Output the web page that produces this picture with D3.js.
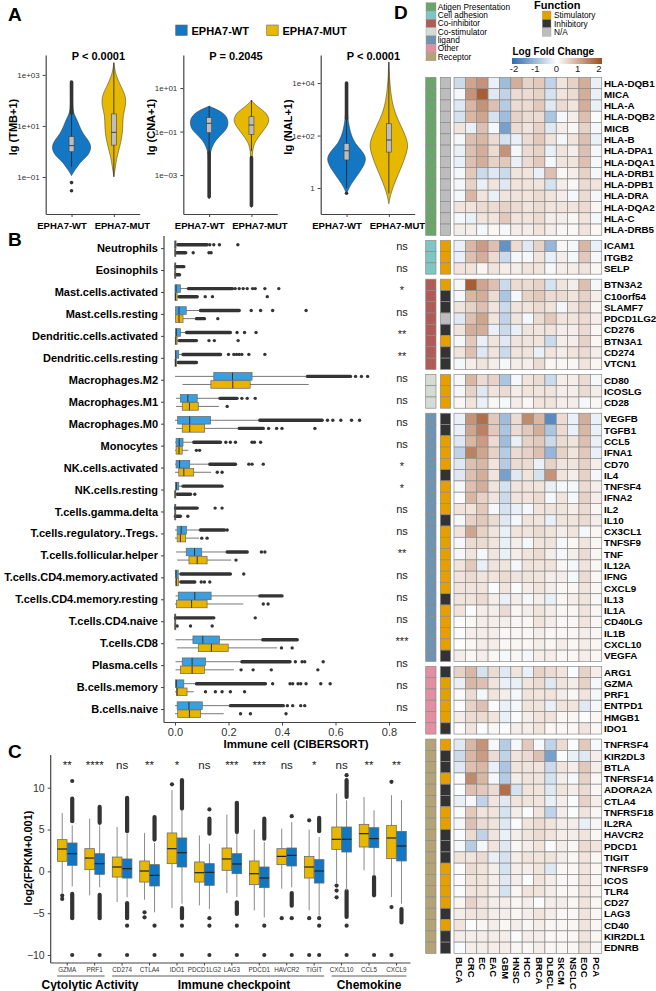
<!DOCTYPE html>
<html><head><meta charset="utf-8">
<script src="https://cdn.jsdelivr.net/npm/d3@7"></script>
<style>body{margin:0;background:#fff}svg{display:block}</style>
</head><body>
<svg id="c" width="656" height="991"></svg>
<script>
// ================= DATA =================
// ---- Panel A ----
const groupsA = ["EPHA7-WT","EPHA7-MUT"];
const titlesA = ["P < 0.0001","P = 0.2045","P < 0.0001"];
const yLabelsA = ["lg (TMB+1)","lg (CNA+1)","lg (NAL+1)"];
const tickValsA = [[-1,1,3],[-3,-1,1],[0,2,4]];
const tickLabsA = [["1e−01","1e+01","1e+03"],["1e−03","1e−01","1e+01"],["1","1e+02","1e+04"]];
// violin profiles: [log10 value, relative density]
const tmbWT = [[-0.95,0],[-0.8,0.1],[-0.6,0.3],[-0.45,0.42],[-0.3,0.62],[-0.15,0.85],[0.05,0.97],[0.23,1.0],[0.45,0.85],[0.7,0.58],[1.0,0.4],[1.25,0.28],[1.45,0.13],[1.7,0.06],[2.2,0.04],[2.74,0.02]];
const tmbMUT = [[-0.99,0],[-0.6,0.08],[-0.2,0.16],[0.2,0.31],[0.6,0.42],[1.0,0.47],[1.4,0.46],[1.75,0.6],[2.15,0.63],[2.55,0.36],[2.95,0.13],[3.2,0.05],[3.48,0]];
const cnaWT = [[-4.1,0],[-3,0.02],[-2.2,0.04],[-1.9,0.07],[-1.55,0.22],[-1.25,0.48],[-0.95,0.87],[-0.62,1.0],[-0.32,0.91],[-0.1,0.65],[0.05,0.3],[0.17,0]];
const cnaMUT = [[-4.5,0],[-3,0.02],[-2.2,0.04],[-1.85,0.06],[-1.47,0.17],[-1.08,0.5],[-0.78,0.77],[-0.5,0.92],[-0.3,0.85],[-0.09,0.7],[0.17,0.28],[0.35,0.08],[0.45,0]];
const nalWT = [[-0.22,0],[0.05,0.15],[0.3,0.38],[0.69,0.75],[0.95,0.95],[1.19,1.0],[1.45,0.75],[1.7,0.44],[1.95,0.28],[2.21,0.17],[2.65,0.06],[3.2,0.03],[4.0,0]];
const nalMUT = [[-0.6,0],[-0.2,0.1],[0.3,0.35],[0.8,0.65],[1.3,0.9],[1.65,1.0],[2.0,0.85],[2.4,0.6],[2.8,0.35],[3.3,0.15],[4.0,0.05],[4.5,0.02],[4.8,0]];
// box stats [lo, q1, median, q3, hi] (log10)
const tmbWTBox = [-0.6,-0.01,0.23,0.58,1.45];
const tmbMUTBox = [-0.99,0.25,0.75,1.47,3.48];
const cnaWTBox = [-1.95,-1.05,-0.62,-0.36,0.17];
const cnaMUTBox = [-1.9,-1.13,-0.7,-0.32,0.45];
const nalWTBox = [0.0,1.07,1.42,1.7,2.6];
const nalMUTBox = [-0.2,1.37,1.83,2.45,4.8];
// outliers: dense runs and single points (log10)
const tmbWTDense = [[1.5,2.72]], tmbWTOut = [-1.22,-1.54];
const tmbMUTDense = [], tmbMUTOut = [];
const cnaWTDense = [[-4.0,-1.95]], cnaWTOut = [];
const cnaMUTDense = [[-4.4,-2.2]], cnaMUTOut = [];
const nalWTDense = [[2.65,4.0]], nalWTOut = [-0.2];
const nalMUTDense = [], nalMUTOut = [];

// ---- Panel B ----
const cellTypes = ["Neutrophils","Eosinophils","Mast.cells.activated","Mast.cells.resting","Dendritic.cells.activated","Dendritic.cells.resting","Macrophages.M2","Macrophages.M1","Macrophages.M0","Monocytes","NK.cells.activated","NK.cells.resting","T.cells.gamma.delta","T.cells.regulatory..Tregs.","T.cells.follicular.helper","T.cells.CD4.memory.activated","T.cells.CD4.memory.resting","T.cells.CD4.naive","T.cells.CD8","Plasma.cells","B.cells.memory","B.cells.naive"];
const sigB = ["ns","ns","*","ns","**","**","ns","ns","ns","ns","*","*","ns","ns","**","ns","ns","ns","***","ns","ns","ns"];
const wtBoxB = [[0,0,0,0.004,0.008],[0,0,0,0,0.002],[0,0,0.004,0.02,0.045],[0,0.002,0.015,0.042,0.093],[0,0.002,0.005,0.02,0.04],[0,0.001,0.003,0.014,0.028],[0,0.145,0.215,0.288,0.494],[0.004,0.02,0.048,0.083,0.164],[0,0.01,0.055,0.133,0.313],[0,0.004,0.016,0.03,0.068],[0,0.004,0.017,0.055,0.127],[0,0.002,0.005,0.014,0.03],[0,0,0,0,0],[0,0.008,0.023,0.043,0.093],[0.004,0.042,0.073,0.1,0.19],[0,0.002,0.004,0.012,0.02],[0.002,0.012,0.074,0.135,0.313],[0,0,0,0,0],[0.002,0.067,0.104,0.166,0.326],[0.002,0.027,0.064,0.114,0.247],[0,0.002,0.005,0.033,0.077],[0,0.008,0.052,0.102,0.207]];
const mutBoxB = [[0,0,0,0.002,0.004],[0,0,0,0,0.002],[0,0,0.002,0.008,0.012],[0,0.002,0.015,0.03,0.077],[0,0.001,0.003,0.008,0.015],[0,0,0.002,0.006,0.01],[0.028,0.134,0.216,0.281,0.5],[0.004,0.027,0.054,0.087,0.164],[0.004,0.027,0.055,0.111,0.235],[0,0.004,0.015,0.027,0.05],[0,0.014,0.033,0.07,0.135],[0,0,0,0.002,0.005],[0,0,0,0,0],[0,0.008,0.02,0.04,0.09],[0.008,0.052,0.083,0.12,0.21],[0,0.003,0.005,0.013,0.02],[0,0.006,0.062,0.12,0.255],[0,0,0,0,0],[0.008,0.087,0.136,0.199,0.382],[0.002,0.02,0.064,0.11,0.22],[0,0.006,0.008,0.045,0.07],[0,0.01,0.054,0.096,0.182]];
const wtDenseB = [[0.01,0.12],[0.004,0.033],[0.05,0.215],[0.095,0.24],[0.043,0.207],[0.03,0.17],[0.495,0.656],[0.168,0.232],[0.317,0.55],[0.07,0.17],[0.13,0.226],[0.03,0.176],[0.002,0.083],[0.095,0.185],[0.195,0.27],[0.022,0.207],[0.317,0.4],[0.002,0.145],[0.328,0.457],[0.25,0.43],[0.08,0.338],[0.207,0.405]];
const mutDenseB = [[0.006,0.04],[0.004,0.017],[0.015,0.083],[0.08,0.11],[0.015,0.08],[0.012,0.08],null,null,[0.24,0.33],null,null,[0.008,0.058],[0.002,0.02],null,null,[0.022,0.074],null,null,null,null,null,null];
const wtOutB = [[0.13,0.145,0.166,0.235],[],[0.225,0.24,0.255,0.27,0.29,0.3,0.336,0.388],[0.285,0.32,0.365,0.49],[0.232,0.26,0.303],[0.2,0.22,0.23,0.24,0.25,0.276,0.336],[0.675,0.697,0.72],[0.25,0.27,0.3],[0.57,0.59,0.62,0.66,0.69],[0.19,0.207,0.226,0.288,0.297,0.32],[0.276,0.288,0.33],[],[0.15,0.176],[0.195],[0.323,0.336],[0.257],[],[0.3],[],[0.45,0.475,0.485,0.554],[0.365,0.43,0.44,0.46,0.47,0.49,0.545,0.58],[0.42,0.44,0.47,0.485]];
const mutOutB = [[0.068,0.127,0.135],[],[0.113,0.14,0.345],[0.16],[0.127,0.147,0.236],[],[],[0.195],[0.35,0.38,0.4,0.523],[0.08,0.092],[0.158,0.176],[0.074],[0.048],[0.1,0.12],[0.228],[0.098,0.11,0.13],[0.33,0.348],[0.008,0.058,0.139],[0.398,0.438],[0.247,0.292,0.36,0.534],[0.114,0.151,0.176,0.207,0.26],[0.245,0.282,0.415]];
const ticksB = [0,0.2,0.4,0.6,0.8];

// ---- Panel C ----
const genesC = ["GZMA","PRF1","CD274","CTLA4","IDO1","PDCD1LG2","LAG3","PDCD1","HAVCR2","TIGIT","CXCL10","CCL5","CXCL9"];
const sigC = ["**","****","ns","**","*","ns","***","***","ns","*","ns","**","**"];
const groupNamesC = ["Cytolytic Activity","Immune checkpoint","Chemokine"];
const groupSpanC = [["GZMA","PRF1"],["CD274","TIGIT"],["CXCL10","CXCL9"]];
const mutBoxC = [[-2.67,1.2,2.67,3.79,6.98],[-2.87,0.2,1.59,2.71,6.3],[-3.67,-0.68,0.52,1.71,5.3],[-3.39,-1.28,0.04,1.24,4.6],[-4.39,0.92,2.71,4.59,9.7],[-4.07,-1.28,-0.16,1.12,4.3],[-2.6,0.12,1.48,2.79,6.78],[-4.67,-1.59,-0.28,1.24,5.0],[-2.07,0.8,1.79,2.71,5.1],[-4.67,-0.8,0.52,1.79,5.0],[-1.48,2.63,3.83,5.3,9.3],[0.12,2.91,4.51,5.62,8.9],[-3.07,1.52,3.99,5.5,9.1]];
const wtBoxC = [[-1.8,0.72,2.11,3.39,5.5],[-1.9,-0.36,0.92,2.11,5.5],[-3.1,-0.8,0.32,1.48,4.5],[-4.9,-1.75,-0.48,0.8,3.4],[-3.87,0.52,2.23,3.99,7.3],[-4.5,-1.67,-0.12,0.92,3.3],[-3.07,-0.28,0.88,2.11,4.5],[-5.5,-1.95,-0.8,0.52,3.5],[-1.9,0.64,1.91,2.79,5.9],[-5.3,-1.4,0.04,1.4,4.1],[-2.27,2.31,3.83,5.3,8.5],[-0.5,2.83,3.91,5.22,7.3],[-3.87,1.24,3.03,4.78,8.5]];
const mutOutC = [[-2.9,-3.3],[],[],[-4.9,-5.5],[10.4],[],[],[],[-5.6],[6.1,-5.6,-10],[-1.7,-2.3,-3.1],[],[-4.27,-10,10.7]];
const wtDenseC = [[[6.0,8.7],[-2.7,-5.6]],[[5.8,7.7],[-2.8,-5.6]],[[4.8,8.8],[-3.8,-5.6]],[[3.8,6.5]],[[7.5,10.9],[-4.4,-5.6]],[[4.5,6.3]],[[4.7,8.2],[-3.7,-5.1]],[[3.9,6.3]],[[-2.6,-4.1]],[[4.8,6.4]],[[8.9,10.9],[-2.35,-5.46]],[[-0.68,-2.87]],[[-4.5,-6.1]]];
const wtOutC = [[10.8,-10],[-10],[-6.5,-10],[-6.5,-10],[-6.5,-10],[7.4,-5.6,-6.5,-10],[-6.5,-10],[-6.5,-10],[6.6,-5.6,-10],[-5.6,-6.5,-10],[11.5,-6.5,-10],[-10],[]];
const ticksC = [-10,-5,0,5,10];

// ---- Panel D ----
const cancers = ["BLCA","CRC","EC","EAC","GBM","HNSC","HCC","BRCA","DLBCL","SKCM","NSCLC","EOC","PCA"];
const categoriesD = ["Atigen Presentation","Cell adhesion","Co-inhibitor","Co-stimulator","ligand","Other","Receptor"];
const categoryCounts = [14,3,8,3,22,6,19];
const functionsD = ["Stimulatory","Inhibitory","N/A"];
const genesD = ["HLA-DQB1","MICA","HLA-A","HLA-DQB2","MICB","HLA-B","HLA-DPA1","HLA-DQA1","HLA-DRB1","HLA-DPB1","HLA-DRA","HLA-DQA2","HLA-C","HLA-DRB5",
 "ICAM1","ITGB2","SELP",
 "BTN3A2","C10orf54","SLAMF7","PDCD1LG2","CD276","BTN3A1","CD274","VTCN1",
 "CD80","ICOSLG","CD28",
 "VEGFB","TGFB1","CCL5","IFNA1","CD70","IL4","TNFSF4","IFNA2","IL2","IL10","CX3CL1","TNFSF9","TNF","IL12A","IFNG","CXCL9","IL13","IL1A","CD40LG","IL1B","CXCL10","VEGFA",
 "ARG1","GZMA","PRF1","ENTPD1","HMGB1","IDO1",
 "TNFRSF4","KIR2DL3","BTLA","TNFRSF14","ADORA2A","CTLA4","TNFRSF18","IL2RA","HAVCR2","PDCD1","TIGIT","TNFRSF9","ICOS","TLR4","CD27","LAG3","CD40","KIR2DL1","EDNRB"];
const geneFunction = ["N/A","N/A","N/A","N/A","N/A","N/A","N/A","N/A","N/A","N/A","N/A","N/A","N/A","N/A",
 "Stimulatory","Stimulatory","Stimulatory",
 "Stimulatory","Inhibitory","Inhibitory","N/A","Inhibitory","Stimulatory","Inhibitory","Inhibitory",
 "Stimulatory","Stimulatory","Stimulatory",
 "Inhibitory","Inhibitory","Stimulatory","Stimulatory","Stimulatory","Inhibitory","Stimulatory","Stimulatory","Stimulatory","Inhibitory","Stimulatory","Stimulatory","Stimulatory","Stimulatory","Stimulatory","Stimulatory","Inhibitory","Stimulatory","Stimulatory","Stimulatory","Stimulatory","Inhibitory",
 "Inhibitory","Stimulatory","Stimulatory","Stimulatory","Stimulatory","Inhibitory",
 "Stimulatory","Inhibitory","Inhibitory","Stimulatory","Inhibitory","Inhibitory","Stimulatory","Stimulatory","Inhibitory","Inhibitory","Inhibitory","Stimulatory","Stimulatory","Stimulatory","Stimulatory","Inhibitory","Stimulatory","Inhibitory","Inhibitory"];
const lfc = [
 [-0.5,1.0,1.2,-0.2,-0.9,0.9,0.5,0.6,-0.6,0.3,0.5,0.9,-0.2],
 [-0.1,1.2,1.8,-0.3,-0.6,0.4,0.4,0.5,-0.4,0.3,0.4,0.9,-0.2],
 [-0.3,0.8,1.2,0.7,-0.7,0.4,0.4,0.6,-0.3,0.4,0.3,0.9,-0.2],
 [-0.4,0.8,1.0,-0.4,-0.9,0.5,0.4,0.4,-0.8,-0.1,0.2,0.7,-0.05],
 [0.3,-0.2,0.7,-0.1,-1.3,0.4,0.3,0.5,-0.3,0.2,0.1,0.5,-0.1],
 [-0.1,0.7,0.8,0.4,-0.4,-0.2,0.4,0.6,0.3,-0.1,0.3,0.7,-0.2],
 [-0.2,0.7,0.9,0.4,1.2,-0.1,0.4,0.5,-0.2,0.3,0.2,0.7,-0.1],
 [-0.2,0.7,0.9,0.5,0.6,-0.2,0.4,0.6,-0.1,0.3,0.3,0.7,-0.1],
 [-0.1,0.6,-0.5,-0.3,-0.5,0.3,0.3,-0.2,0.7,0.1,0.2,0.5,-0.1],
 [-0.1,0.5,-0.2,0.3,-0.3,0.3,0.3,0.3,-0.4,0.2,0.1,0.4,0.3],
 [-0.1,0.8,0.3,-0.2,0.3,0.3,0.3,0.4,0.3,0.2,-0.1,0.4,-0.1],
 [0.3,0.3,0.4,0.4,0.5,0.4,0.3,0.4,0.3,0.3,0.3,0.4,0.1],
 [-0.1,-0.2,0.3,0.3,0.6,0.3,0.3,0.4,0.2,0.2,0.1,0.3,-0.1],
 [0.2,0.2,-0.1,0.1,-0.1,0.2,0.2,0.3,0.2,0.1,0.1,0.3,0.1],
 [-0.2,0.8,1.1,0.7,-1.5,0.4,-0.3,0.5,-1.0,0.1,-0.1,0.8,-0.2],
 [-0.2,0.7,0.9,0.4,-0.5,-0.1,-0.1,0.3,-0.2,0.2,-0.1,0.6,-0.1],
 [0.3,0.3,0.1,0.3,0.2,0.2,0.3,0.3,-0.1,0.2,0.2,0.3,0.1],
 [-0.1,1.8,1.0,0.7,-0.5,0.4,0.4,0.5,-0.4,0.3,0.2,0.7,-0.1],
 [-0.1,0.8,0.9,0.4,-0.8,-0.1,0.5,0.6,0.4,0.4,0.3,0.5,0.2],
 [0.3,0.5,0.7,0.3,-0.5,0.3,0.3,0.4,0.3,-0.1,0.3,0.5,0.1],
 [-0.3,0.7,1.0,0.3,-0.6,0.3,-0.1,0.4,0.6,0.3,0.3,0.4,0.2],
 [0.3,0.9,0.9,-0.2,-0.5,-0.2,0.3,0.3,0.3,0.2,0.2,0.4,0.1],
 [-0.1,0.6,-0.2,0.3,-0.3,0.3,0.3,0.3,-0.5,0.2,0.2,0.5,0.1],
 [0.3,0.7,-0.3,0.3,-0.5,0.3,0.3,-0.2,0.3,0.2,0.3,0.4,0.2],
 [-0.1,0.2,0.3,0.2,-0.1,0.2,0.2,0.4,0.1,0.1,0.1,0.3,0.1],
 [-0.1,0.8,0.4,0.5,-0.8,-0.1,0.3,0.4,-0.5,0.2,0.2,0.4,-0.1],
 [-0.1,0.5,-0.3,0.3,0.4,0.2,0.3,0.3,0.3,0.2,0.2,0.4,0.2],
 [0.1,0.3,-0.2,0.1,-0.1,0.2,0.1,0.3,0.3,0.2,0.2,-0.1,0.1],
 [-0.2,1.2,1.6,0.6,-0.9,0.4,1.3,0.8,-1.6,0.4,-0.2,0.9,-0.2],
 [-0.2,1.0,1.4,0.6,-0.8,0.4,0.6,0.9,-0.8,0.4,-0.2,0.8,-0.2],
 [-0.3,0.8,1.1,0.4,-0.9,-0.2,0.5,0.6,-0.5,0.4,0.3,0.7,-0.2],
 [-0.6,1.4,1.0,0.5,-0.7,0.4,0.5,0.7,-1.0,0.5,0.3,0.6,-0.2],
 [-0.3,0.7,0.8,0.3,-0.7,0.4,0.4,-0.2,0.5,0.3,0.3,0.5,0.2],
 [-0.3,0.7,0.9,0.3,-1.3,-0.3,0.3,-0.4,1.2,0.3,0.2,0.5,-0.1],
 [-0.1,0.7,0.9,0.3,-0.4,0.3,0.3,0.3,-0.2,-0.1,-0.1,0.4,0.2],
 [-0.05,0.8,0.5,0.3,-0.5,0.3,0.3,0.4,-0.1,0.3,-0.1,0.5,0.2],
 [0.3,0.3,0.6,-0.1,-0.4,-0.2,-0.1,0.3,0.3,0.3,0.2,0.4,0.1],
 [-0.1,0.5,0.6,0.4,-0.3,-0.1,0.3,0.3,-0.2,0.3,0.3,0.4,0.2],
 [0.3,1.0,0.5,0.3,-0.2,0.3,0.3,0.4,0.3,0.2,0.3,-0.1,0.1],
 [-0.1,0.4,0.4,0.3,-0.2,0.2,-0.1,0.3,0.3,-0.1,0.1,0.3,0.1],
 [-0.1,0.3,-0.1,0.3,-0.2,0.2,0.3,0.4,0.2,-0.1,0.2,0.4,0.1],
 [0.3,0.6,-0.2,0.3,0.3,-0.1,0.3,0.3,0.3,0.1,-0.1,0.3,0.1],
 [0.3,0.4,0.3,0.3,0.4,0.3,0.3,0.3,0.2,0.2,-0.1,0.4,0.1],
 [0.3,0.3,0.3,-0.05,0.3,-0.05,0.2,0.3,0.2,0.1,0.1,0.3,0.1],
 [0.3,0.3,0.4,0.2,-0.2,0.2,-0.1,0.2,-0.2,0.1,0.2,0.3,0.1],
 [0.3,-0.05,0.2,0.2,0.4,0.1,0.2,0.3,0.2,0.1,0.1,0.3,0.1],
 [-0.05,0.1,0.2,0.2,0.2,0.1,0.1,0.3,0.2,0.1,0.1,0.3,0.1],
 [-0.05,0.2,0.2,0.2,0.1,0.1,0.1,0.2,0.1,0.1,0.1,0.2,0.1],
 [0.0,0.1,0.2,0.2,0.1,0.1,0.1,0.2,0.1,0.2,0.1,0.2,0.1],
 [0.2,0.1,0.2,0.1,-0.1,0.1,-0.1,0.2,0.2,0.1,0.1,0.2,0.1],
 [0.5,0.8,-0.4,0.4,-0.3,0.3,-0.2,0.5,0.4,0.3,-0.05,0.5,0.2],
 [-0.2,0.8,0.7,0.3,-0.2,-0.2,0.3,0.4,-0.3,0.3,0.2,0.5,-0.1],
 [-0.05,0.4,-0.1,0.3,0.2,-0.1,0.3,0.3,0.3,0.2,0.1,0.3,-0.1],
 [-0.05,0.5,0.7,-0.05,-0.2,-0.1,0.3,0.3,-0.2,0.3,0.3,-0.3,-0.1],
 [0.2,0.4,0.4,0.3,-0.2,-0.05,0.2,0.3,0.3,0.1,0.1,-0.05,0.1],
 [-0.05,0.3,-0.05,0.1,-0.05,0.2,0.2,0.3,0.1,0.1,0.1,0.3,0.1],
 [-0.3,0.8,1.2,-0.1,-0.7,-0.1,0.6,-0.1,-0.6,0.4,-0.05,0.6,-0.1],
 [-0.5,0.8,1.1,0.4,-0.6,0.3,0.4,0.7,-1.3,-0.05,-0.2,-0.3,0.2],
 [-0.3,0.7,0.8,-0.2,-0.8,0.3,0.3,0.3,-0.5,0.3,0.2,0.6,0.2],
 [-0.05,1.3,0.8,-0.1,-0.7,0.2,0.3,0.3,-0.4,0.2,-0.1,0.5,0.1],
 [-0.05,0.7,0.6,0.4,1.6,-0.4,0.3,0.3,-0.3,0.3,0.2,0.4,0.1],
 [-0.2,-0.1,-0.6,0.3,-0.3,0.3,0.3,0.3,-0.2,0.2,-0.05,0.5,0.2],
 [-0.05,0.6,0.3,0.3,-0.4,0.2,-0.05,0.3,-0.6,0.2,-0.05,0.3,0.1],
 [-0.1,0.7,0.4,0.3,-0.3,-0.05,0.3,0.4,0.3,0.2,0.2,-0.2,0.1],
 [-0.05,0.4,-0.6,0.3,-0.2,0.2,0.3,0.4,0.3,0.2,0.2,0.3,0.1],
 [-0.1,-0.7,-0.1,0.3,-0.3,0.1,0.2,0.3,-0.05,0.2,0.1,0.4,0.3],
 [0.3,0.3,0.4,-0.2,-0.4,0.2,0.3,0.3,0.3,0.2,0.1,0.3,0.1],
 [-0.05,0.4,0.3,0.2,-0.4,0.2,0.2,0.3,-0.3,0.1,0.1,0.3,0.1],
 [-0.05,0.3,0.3,0.2,-0.3,0.2,-0.05,0.3,0.2,0.1,0.1,0.3,0.1],
 [-0.05,0.3,0.3,0.2,-0.4,0.1,0.3,0.3,0.2,0.1,0.1,0.3,0.1],
 [0.1,0.5,0.3,0.2,0.2,0.1,0.2,-0.05,0.2,0.2,0.1,0.3,0.1],
 [0.2,0.3,0.3,0.2,0.2,0.1,0.2,0.3,0.2,0.1,0.1,0.3,0.1],
 [0.3,-0.05,0.1,0.2,0.1,0.2,0.1,0.2,0.1,0.1,0.1,0.3,0.1],
 [0.2,0.2,0.2,0.2,0.2,-0.05,0.2,0.2,0.1,0.1,0.1,0.3,0.1],
 [-0.05,0.2,0.2,0.2,0.2,0.1,0.1,0.2,0.1,0.1,0.1,0.3,0.1]
];
const lfcTicks = [-2,-1,0,1,2];

// ================= DRAWING =================
const F = "'Liberation Sans', Arial, Helvetica, sans-serif";
const svg = d3.select("#c").attr("font-family", F);
svg.append("rect").attr("width",656).attr("height",991).attr("fill","#fff");

const BLUE_A = "#1477c4", YEL_A = "#e7b800";
const BLUE_B = "#3a9fe0", YEL_B = "#e7b400";
const BLUE_C = "#1077c3", YEL_C = "#e8b800";
const AX = "#444";

function text(g, x, y, s, size, opts = {}) {
  const t = g.append("text").attr("x", x).attr("y", y).text(s)
    .attr("font-size", size).attr("fill", opts.fill || "#000");
  if (opts.bold) t.attr("font-weight", "bold");
  if (opts.anchor) t.attr("text-anchor", opts.anchor);
  if (opts.base) t.attr("dominant-baseline", opts.base);
  if (opts.transform) t.attr("transform", opts.transform);
  return t;
}
function styleAxis(g, size) {
  g.selectAll(".domain").attr("stroke", AX).attr("stroke-width", 1.2);
  g.selectAll(".tick line").attr("stroke", AX).attr("stroke-width", 1);
  g.selectAll(".tick text").attr("font-size", size).attr("fill", "#333").attr("font-family", F);
}

// panel letters
[["A",8,21],["B",8,246],["C",8,758],["D",394,19]].forEach(d =>
  text(svg, d[1], d[2], d[0], 19, {bold:true}));

// ---------- Panel A ----------
{
  const gA = svg.append("g");
  const lg = [[BLUE_A, 175.7, 191.5],[YEL_A, 266.7, 282.5]];
  lg.forEach((l,i) => {
    gA.append("rect").attr("x", l[1]).attr("y", 25).attr("width", 11.5).attr("height", 10.5)
      .attr("fill", l[0]).attr("stroke", "#666").attr("stroke-width", 0.6);
    text(gA, l[2], 35, groupsA[i], 11, {bold:true});
  });
  const x0s = [45.7, 183.3, 320.7];
  const doms = [[-2.45,3.78],[-4.79,2.52],[-0.99,5.07]];
  const violins = [[tmbWT,tmbMUT],[cnaWT,cnaMUT],[nalWT,nalMUT]];
  const boxes = [[tmbWTBox,tmbMUTBox],[cnaWTBox,cnaMUTBox],[nalWTBox,nalMUTBox]];
  const denses = [[tmbWTDense,tmbMUTDense],[cnaWTDense,cnaMUTDense],[nalWTDense,nalMUTDense]];
  const outs = [[tmbWTOut,tmbMUTOut],[cnaWTOut,cnaMUTOut],[nalWTOut,nalMUTOut]];
  const cols = [BLUE_A, YEL_A];
  const labShift = [-10, 8];
  for (let p = 0; p < 3; p++) {
    const x0 = x0s[p];
    const x = d3.scalePoint().domain(groupsA).range([x0, x0 + 94]).padding(0.611);
    const y = d3.scaleLinear().domain(doms[p]).range([214, 55]);
    const g = gA.append("g");
    groupsA.forEach((grp, k) => {
      const cx = x(grp), hw = 19.5;
      const area = d3.area().curve(d3.curveBasis)
        .y(d => y(d[0])).x0(d => cx - d[1]*hw).x1(d => cx + d[1]*hw);
      g.append("path").attr("d", area(violins[p][k])).attr("fill", cols[k])
        .attr("stroke", "#333").attr("stroke-width", 0.5);
      const b = boxes[p][k];
      g.append("line").attr("x1", cx).attr("x2", cx).attr("y1", y(b[0])).attr("y2", y(b[4]))
        .attr("stroke", "#222").attr("stroke-width", 0.8);
      denses[p][k].forEach(r => g.append("line").attr("x1", cx).attr("x2", cx)
        .attr("y1", y(r[0])).attr("y2", y(r[1])).attr("stroke", "#333")
        .attr("stroke-width", 3.6).attr("stroke-linecap", "round"));
      outs[p][k].forEach(v => g.append("circle").attr("cx", cx).attr("cy", y(v)).attr("r", 1.8).attr("fill", "#333"));
      g.append("rect").attr("x", cx - 2.5).attr("width", 5).attr("y", y(b[3])).attr("height", y(b[1]) - y(b[3]))
        .attr("fill", "#bdbdbd").attr("stroke", "#444").attr("stroke-width", 0.6);
      g.append("line").attr("x1", cx - 2.5).attr("x2", cx + 2.5).attr("y1", y(b[2])).attr("y2", y(b[2]))
        .attr("stroke", "#222").attr("stroke-width", 0.8);
    });
    const ya = g.append("g").attr("transform", `translate(${x0},0)`)
      .call(d3.axisLeft(y).tickValues(tickValsA[p]).tickFormat((d,i) => tickLabsA[p][i]).tickSize(3).tickSizeOuter(0));
    styleAxis(ya, 8);
    const xa = g.append("g").attr("transform", `translate(0,214)`)
      .call(d3.axisBottom(x).tickSize(3).tickSizeOuter(0));
    styleAxis(xa, 9.5);
    xa.selectAll(".tick text").attr("font-weight", "bold").attr("fill", "#000").attr("dy", "0.9em")
      .attr("x", (d, i) => labShift[i]);
    text(g, x0 + 52.7, 59.5, titlesA[p], 11, {bold:true, anchor:"middle"});
    text(g, 0, 0, yLabelsA[p], 11, {bold:true, anchor:"middle", transform:`translate(${x0 - 28.5},127) rotate(-90)`});
  }
}

// ---------- Panel B ----------
{
  const g = svg.append("g");
  const x = d3.scaleLinear().domain([0, 0.8]).range([175, 389]);
  const y = d3.scaleBand().domain(cellTypes).range([237.6, 720.5]);
  const bh = 7.6;
  function hbox(stats, cy, fill) {
    g.append("line").attr("x1", x(stats[0])).attr("x2", x(stats[4])).attr("y1", cy).attr("y2", cy)
      .attr("stroke", "#555").attr("stroke-width", 0.8);
    g.append("rect").attr("x", x(stats[1])).attr("width", Math.max(x(stats[3]) - x(stats[1]), 0.8))
      .attr("y", cy - bh/2).attr("height", bh).attr("fill", fill).attr("stroke", "#666").attr("stroke-width", 0.7);
    g.append("line").attr("x1", x(stats[2])).attr("x2", x(stats[2])).attr("y1", cy - bh/2).attr("y2", cy + bh/2)
      .attr("stroke", "#333").attr("stroke-width", 1);
  }
  function outl(dense, pts, cy) {
    if (dense) g.append("line").attr("x1", x(dense[0])).attr("x2", x(dense[1])).attr("y1", cy).attr("y2", cy)
      .attr("stroke", "#333").attr("stroke-width", 3.4).attr("stroke-linecap", "round");
    pts.forEach(v => g.append("circle").attr("cx", x(v)).attr("cy", cy).attr("r", 1.7).attr("fill", "#333"));
  }
  cellTypes.forEach((c, i) => {
    const cy = y(c) + y.bandwidth()/2;
    outl(wtDenseB[i], wtOutB[i], cy - 3.9);
    outl(mutDenseB[i], mutOutB[i], cy + 4.2);
    hbox(wtBoxB[i], cy - 3.9, BLUE_B);
    hbox(mutBoxB[i], cy + 4.2, YEL_B);
    text(g, 402, cy + 1.5, sigB[i], 11, {anchor:"middle", fill:"#222"});
  });
  const ya = g.append("g").attr("transform", "translate(164,0)")
    .call(d3.axisLeft(y).tickSize(3).tickSizeOuter(0));
  styleAxis(ya, 11);
  ya.select(".domain").attr("d", "M0,236V722.5");
  ya.selectAll(".tick text").attr("font-weight", "bold").attr("fill", "#000");
  const xa = g.append("g").attr("transform", "translate(0,722.5)")
    .call(d3.axisBottom(x).tickValues(ticksB).tickFormat(d3.format(".1f")).tickSize(3).tickSizeOuter(0));
  styleAxis(xa, 11);
  xa.select(".domain").attr("d", "M164,0H416");
  text(g, 296, 748, "Immune cell (CIBERSORT)", 11.5, {bold:true, anchor:"middle"});
}

// ---------- Panel C ----------
{
  const g = svg.append("g");
  const x = d3.scaleBand().domain(genesC).range([53.5, 410.2]);
  const y = d3.scaleLinear().domain([-10, 10]).range([955, 787.7]);
  const bw = 9.6;
  function vbox(stats, cx, fill) {
    g.append("line").attr("x1", cx).attr("x2", cx).attr("y1", y(stats[0])).attr("y2", y(stats[4]))
      .attr("stroke", "#8a8a8a").attr("stroke-width", 1);
    g.append("rect").attr("x", cx - bw/2).attr("width", bw).attr("y", y(stats[3])).attr("height", y(stats[1]) - y(stats[3]))
      .attr("fill", fill).attr("stroke", "#6a6a6a").attr("stroke-width", 0.8);
    g.append("line").attr("x1", cx - bw/2).attr("x2", cx + bw/2).attr("y1", y(stats[2])).attr("y2", y(stats[2]))
      .attr("stroke", "#222").attr("stroke-width", 1.2);
  }
  function pts(dense, vals, cx) {
    dense.forEach(r => g.append("line").attr("x1", cx).attr("x2", cx).attr("y1", y(r[0])).attr("y2", y(r[1]))
      .attr("stroke", "#333").attr("stroke-width", 4.2).attr("stroke-linecap", "round"));
    vals.forEach(v => g.append("circle").attr("cx", cx).attr("cy", y(v)).attr("r", 2.1).attr("fill", "#333"));
  }
  genesC.forEach((gn, i) => {
    const c = x(gn) + x.bandwidth()/2;
    pts([], mutOutC[i], c - 5);
    pts(wtDenseC[i], wtOutC[i], c + 5);
    vbox(mutBoxC[i], c - 5, YEL_C);
    vbox(wtBoxC[i], c + 5, BLUE_C);
    text(g, c, 768.5, sigC[i], 11.5, {anchor:"middle", fill:"#222"});
  });
  const ya = g.append("g").attr("transform", "translate(50.7,0)")
    .call(d3.axisLeft(y).tickValues(ticksC).tickFormat(d => d < 0 ? "−" + Math.abs(d) : d).tickSize(3).tickSizeOuter(0));
  styleAxis(ya, 10.5);
  ya.select(".domain").attr("d", "M0,755V963");
  const xa = g.append("g").attr("transform", "translate(0,963)")
    .call(d3.axisBottom(x).tickSize(2.5).tickSizeOuter(0));
  styleAxis(xa, 6.3);
  xa.select(".domain").attr("d", "M50.7,0H410.5");
  xa.selectAll(".tick text").attr("dy", "0.55em");
  text(g, 0, 0, "log2(FPKM+0.001)", 11, {bold:true, anchor:"middle", transform:"translate(32,858) rotate(-90)"});
  const labX = [90, 234, 369];
  groupSpanC.forEach((s, i) => {
    const a = x(s[0]) + x.bandwidth()/2 - 10, b = x(s[1]) + x.bandwidth()/2 + 10;
    g.append("line").attr("x1", a).attr("x2", b).attr("y1", 976).attr("y2", 976).attr("stroke", "#333").attr("stroke-width", 0.8);
    text(g, labX[i], 989, groupNamesC[i], 12, {bold:true, anchor:"middle"});
  });
}

// ---------- Panel D ----------
{
  const g = svg.append("g");
  const catCol = d3.scaleOrdinal().domain(categoriesD).range(["#6aa56a","#7dc6c4","#b05b57","#d4dcd4","#6e94b1","#e28fa1","#b3a377"]);
  const funCol = d3.scaleOrdinal().domain(functionsD).range(["#e69f00","#333333","#bdbdbd"]);
  const color = d3.scaleLinear().domain([-2, 0, 2]).range(["#2f6db2", "#ffffff", "#9e4b1f"]).clamp(true);
  const x = d3.scaleBand().domain(cancers).range([454, 601.7]);
  const rowH = 11.28, gap = 5, top = 77.4;
  const rowY = [], rowCat = [];
  let yy = top;
  categoryCounts.forEach((n, gi) => {
    for (let k = 0; k < n; k++) { rowY.push(yy); rowCat.push(categoriesD[gi]); yy += rowH; }
    yy += gap;
  });
  const stroke = "#8c8c8c";
  genesD.forEach((gn, r) => {
    const y0 = rowY[r];
    g.append("rect").attr("x", 425.7).attr("y", y0).attr("width", 10.3).attr("height", rowH)
      .attr("fill", catCol(rowCat[r])).attr("stroke", stroke).attr("stroke-width", 0.7);
    g.append("rect").attr("x", 440.3).attr("y", y0).attr("width", 10.3).attr("height", rowH)
      .attr("fill", funCol(geneFunction[r])).attr("stroke", stroke).attr("stroke-width", 0.7);
    cancers.forEach((c, j) => {
      g.append("rect").attr("x", x(c)).attr("y", y0).attr("width", x.bandwidth()).attr("height", rowH)
        .attr("fill", color(lfc[r][j])).attr("stroke", stroke).attr("stroke-width", 0.7);
    });
    text(g, 604, y0 + rowH/2, gn, 9.8, {bold:true, base:"central"});
  });
  cancers.forEach(c => {
    text(g, 0, 0, c, 9.5, {bold:true, base:"central", transform:`translate(${x(c) + x.bandwidth()/2},957) rotate(90)`});
  });
  // category legend
  categoriesD.forEach((c, i) => {
    g.append("rect").attr("x", 426).attr("y", 2.7 + i*8.3).attr("width", 10).attr("height", 8.3)
      .attr("fill", catCol(c)).attr("stroke", "#999").attr("stroke-width", 0.4);
    text(g, 437.7, 6.85 + i*8.3, c, 8.3, {base:"central"});
  });
  // function legend
  text(g, 534, 8.5, "Function", 11, {bold:true});
  functionsD.forEach((f, i) => {
    g.append("rect").attr("x", 542.3).attr("y", 11 + i*8.4).attr("width", 8.7).attr("height", 8.4)
      .attr("fill", funCol(f)).attr("stroke", "#999").attr("stroke-width", 0.4);
    text(g, 554, 15.2 + i*8.4, f, 8.3, {base:"central"});
  });
  // color bar
  text(g, 512.5, 54.5, "Log Fold Change", 10, {bold:true});
  const defs = svg.append("defs");
  const lgd = defs.append("linearGradient").attr("id", "lfcg");
  [-2,-1,0,1,2].forEach(v => lgd.append("stop").attr("offset", ((v+2)/4*100) + "%").attr("stop-color", color(v)));
  g.append("rect").attr("x", 512).attr("y", 58).attr("width", 90).attr("height", 6).attr("fill", "url(#lfcg)");
  const cb = d3.scaleLinear().domain([-2, 2]).range([514, 599]);
  lfcTicks.forEach(v => text(g, cb(v), 72, String(v), 9.5, {anchor:"middle", fill:"#222"}));
}
</script>
</body></html>
